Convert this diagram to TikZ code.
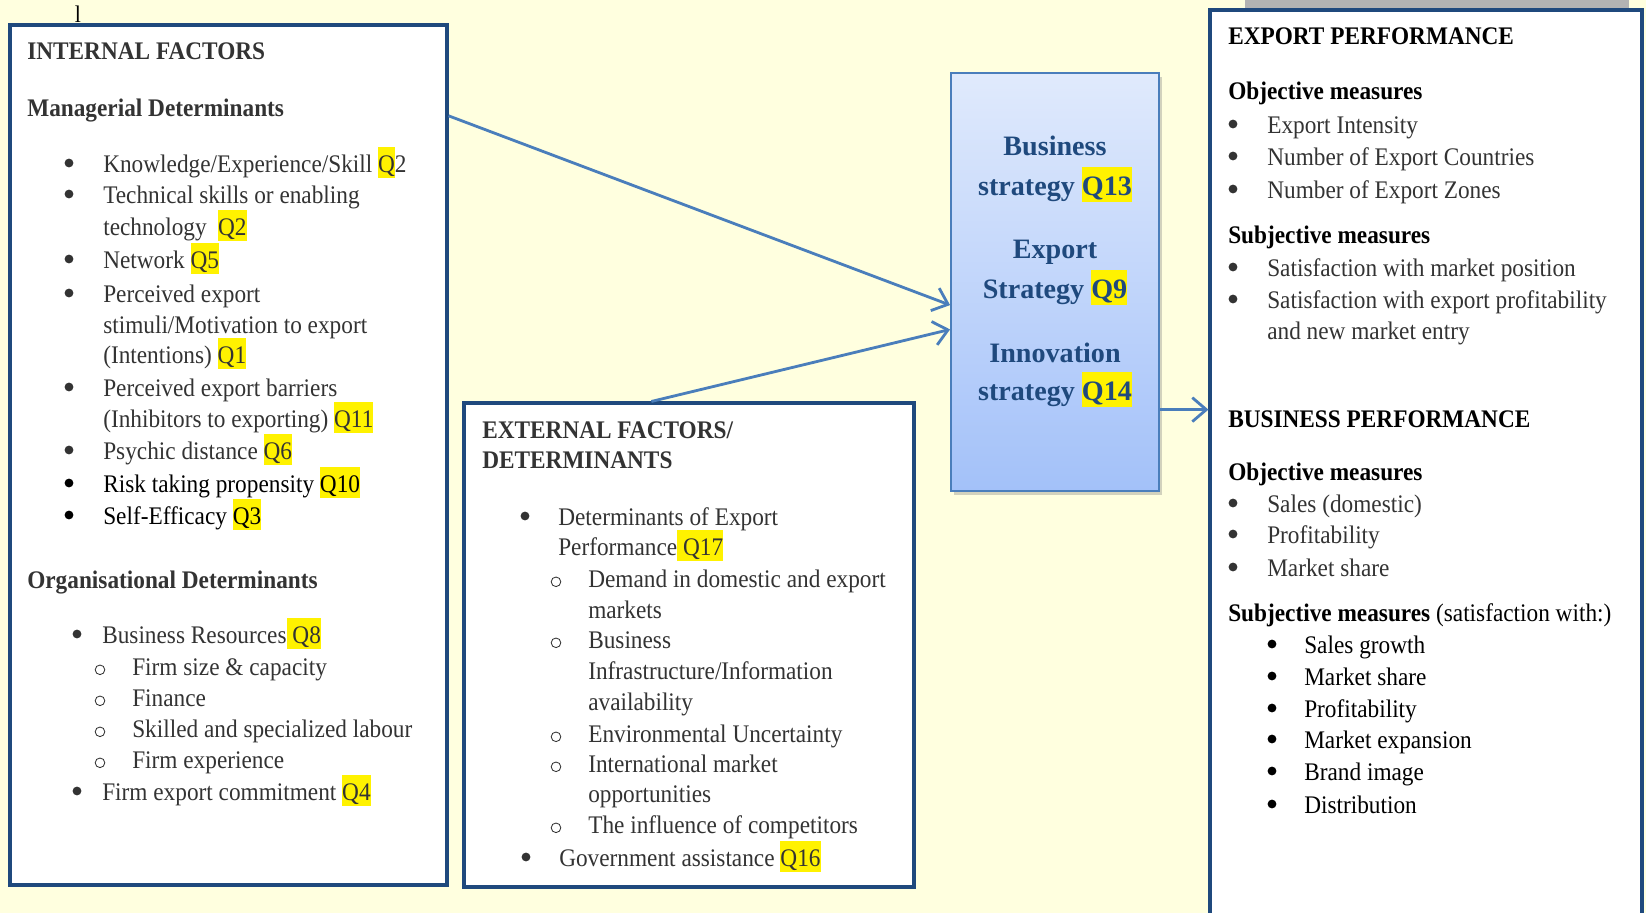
\documentclass[tikz,border=0pt]{standalone}
\usepackage{fontspec}
\setmainfont{Liberation Serif}[FakeStretch=0.92]
\newfontfamily\stratfont{Liberation Serif}
\usetikzlibrary{arrows.meta,fit,calc,shadows}

\definecolor{paper}{RGB}{255,255,223}
\definecolor{boxblue}{RGB}{31,73,125}
\definecolor{arrowblue}{RGB}{74,126,187}
\definecolor{inkgray}{RGB}{51,51,51}
\definecolor{shadetop}{RGB}{224,234,252}
\definecolor{shadebot}{RGB}{163,193,249}
\definecolor{barfill}{RGB}{179,179,179}

% yellow marker behind the question numbers
\newcommand\qm[1]{{\setlength\fboxsep{0pt}\colorbox{yellow}{\vrule height 0.98em depth 0.24em width 0pt\relax#1}}}

\tikzset{
  panel/.style={draw=boxblue, line width=2.2pt, fill=white, inner sep=0pt},
  txt/.style={anchor=base west, inner sep=0pt, text=inkgray, font=\fontsize{18}{22}\selectfont},
  head/.style={txt, font=\fontsize{18}{22}\selectfont\bfseries},
  stxt/.style={anchor=base, inner sep=0pt, text=boxblue, font=\stratfont\fontsize{20}{24}\selectfont\bfseries},
  list1/.style={circle, fill=inkgray, inner sep=0pt, minimum size=2.2mm, yshift=0.225cm},
  list2/.style={circle, draw=inkgray, line width=0.6pt, inner sep=0pt, minimum size=2.4mm, yshift=0.13cm},
  link/.style={draw=arrowblue, line width=2pt, -{Straight Barb[length=3.5mm,width=6mm]}}
}

\begin{document}
\begin{tikzpicture}[x=0.025cm, y=-0.025cm]

    % Page
    \fill[paper] (0,0) rectangle (1646,913);
    \useasboundingbox (0,0) rectangle (1646,913);
    \clip (0,0) rectangle (1646,913);
    \fill[barfill] (1245,0) rectangle (1629,8);
    \node[anchor=base, inner sep=0pt, font=\fontsize{17}{20}\selectfont] (stray) at (78,23) {l};

    % Boxes
    \node[panel, fit={(10,25) (447,885)}] (int) {};
    \node[panel, fit={(464,403) (914,887)}] (ext) {};
    \node[fit={(951,73) (1159,491)}, inner sep=0pt, draw=arrowblue, line width=1.3pt,
          top color=shadetop, bottom color=shadebot,
          drop shadow={shadow xshift=2pt, shadow yshift=-3pt, opacity=0.35}] (strat) {};
    \node[panel, fit={(1210,10) (1642,950)}] (perf) {};

    % Internal factors
    \node[head] (int-t) at (27,60) {INTERNAL FACTORS};
    \node[head] (int-m) at (27,116) {Managerial Determinants};
    \foreach \y/\b/\t [count=\i] in {
        172/1/{Knowledge/Experience/Skill \qm{Q}2},
        203/1/{Technical skills or enabling},
        235/0/{technology\hspace{0.45em}\qm{Q2}},
        268/1/{Network \qm{Q5}},
        302/1/{Perceived export},
        333/0/{stimuli/Motivation to export},
        363/0/{(Intentions) \qm{Q1}},
        396/1/{Perceived export barriers},
        427/0/{(Inhibitors to exporting) \qm{Q11}},
        459/1/{Psychic distance \qm{Q6}}} {
        \ifnum\b>0 \node[list1] (ib\i) at (69,\y) {}; \fi
        \node[txt] (il\i) at (103,\y) {\t};
    }
    \node[list1, fill=black] (ib11) at (69,492) {};
    \node[txt, text=black] (il11) at (103,492) {Risk taking propensity \qm{Q10}};
    \node[list1, fill=black] (ib12) at (69,524) {};
    \node[txt, text=black] (il12) at (103,524) {Self-Efficacy \qm{Q3}};

    \node[head] (int-o) at (27,588) {Organisational Determinants};
    \foreach \y/\bx/\b/\tx/\t [count=\i] in {
        643/77/1/102/{Business Resources\qm{ Q8}},
        675/100/2/132/{Firm size \& capacity},
        706/100/2/132/{Finance},
        737/100/2/132/{Skilled and specialized labour},
        768/100/2/132/{Firm experience},
        800/77/1/102/{Firm export commitment \qm{Q4}}} {
        \node[list\b] (ob\i) at (\bx,\y) {};
        \node[txt] (ol\i) at (\tx,\y) {\t};
    }

    % External factors
    \node[head] (ext-t) at (482,438) {EXTERNAL FACTORS/};
    \node[head] (ext-d) at (482,468) {DETERMINANTS};
    \foreach \y/\bx/\b/\tx/\t [count=\i] in {
        525/525/1/558/{Determinants of Export},
        555/525/0/558/{Performance\qm{ Q17}},
        587/556/2/588/{Demand in domestic and export},
        618/556/0/588/{markets},
        648/556/2/588/{Business},
        679/556/0/588/{Infrastructure/Information},
        710/556/0/588/{availability},
        742/556/2/588/{Environmental Uncertainty},
        772/556/2/588/{International market},
        802/556/0/588/{opportunities},
        833/556/2/588/{The influence of competitors},
        866/526/1/559/{Government assistance \qm{Q16}}} {
        \ifnum\b>0 \node[list\b] (eb\i) at (\bx,\y) {}; \fi
        \node[txt] (el\i) at (\tx,\y) {\t};
    }

    % Strategies
    \foreach \y/\t [count=\i] in {155/Business, 195/{strategy \qm{Q13}},
        258/Export, 298/{Strategy \qm{Q9}},
        362/Innovation, 400/{strategy \qm{Q14}}}
        \node[stxt] (s\i) at (1055,\y) {\t};

    % Performance
    \node[head, text=black] (ep-t) at (1228,45) {EXPORT PERFORMANCE};
    \node[head, text=black] (ep-o) at (1228,100) {Objective measures};
    \node[head, text=black] (ep-s) at (1228,243) {Subjective measures};
    \node[head, text=black] (bp-t) at (1228,427) {BUSINESS PERFORMANCE};
    \node[head, text=black] (bp-o) at (1228,480) {Objective measures};
    \node[txt, text=black] (bp-s) at (1228,621) {\textbf{Subjective measures} (satisfaction with:)};
    \foreach \y/\b/\t [count=\i] in {
        133/1/{Export Intensity},
        165/1/{Number of Export Countries},
        198/1/{Number of Export Zones},
        276/1/{Satisfaction with market position},
        308/1/{Satisfaction with export profitability},
        339/0/{and new market entry},
        512/1/{Sales (domestic)},
        543/1/{Profitability},
        576/1/{Market share}} {
        \ifnum\b>0 \node[list1] (pb\i) at (1233,\y) {}; \fi
        \node[txt] (pl\i) at (1267,\y) {\t};
    }
    \foreach \y/\t [count=\i] in {653/Sales growth, 685/Market share, 717/Profitability,
        748/Market expansion, 780/Brand image, 813/Distribution} {
        \node[list1, fill=black] (qb\i) at (1272,\y) {};
        \node[txt, text=black] (ql\i) at (1304,\y) {\t};
    }

    % Connectors
    \coordinate (a1) at ($(int.north east)!0.107!(int.south east)$);
    \coordinate (b1) at ($(strat.north west)!0.555!(strat.south west)$);
    \coordinate (a2) at ($(ext.north west)!0.417!(ext.north east)$);
    \coordinate (b2) at ($(strat.north west)!0.613!(strat.south west)$);
    \coordinate (a3) at ($(strat.north east)!0.804!(strat.south east)$);
    \draw[link] (a1) -- (b1);
    \draw[link] (a2) -- (b2);
    \draw[link] (a3) -- (a3 -| perf.west);

\end{tikzpicture}
\end{document}
